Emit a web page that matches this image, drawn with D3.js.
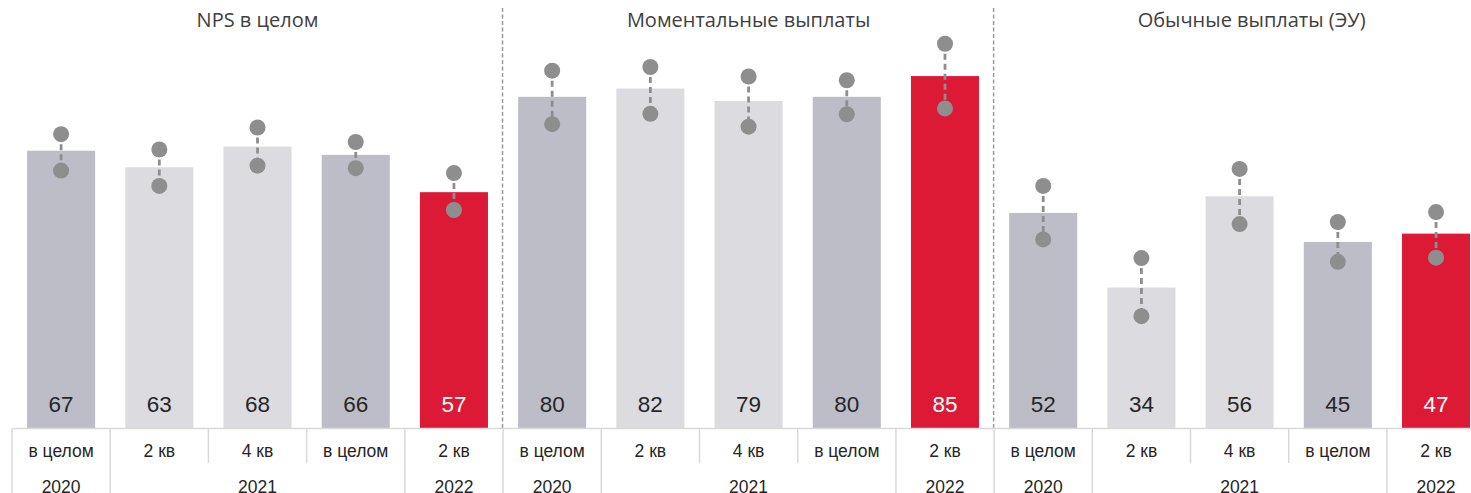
<!DOCTYPE html>
<html>
<head>
<meta charset="utf-8">
<script src="https://cdn.jsdelivr.net/npm/d3@7"></script>
<style>
  html, body { margin: 0; padding: 0; background: #fff; overflow: hidden; }
  svg { display: block; }
</style>
</head>
<body>
<svg id="chart" width="1471" height="493"></svg>
<script>
// ---- data ----
const panels = ["NPS в целом", "Моментальные выплаты", "Обычные выплаты (ЭУ)"];
const periods = ["в целом", "2 кв", "4 кв", "в целом", "2 кв"];
const years = ["2020", "2021", "2021", "2021", "2022"];
const kinds = ["year", "quarter", "quarter", "year", "current"];
const values = [
  [67, 63, 68, 66, 57],
  [80, 82, 79, 80, 85],
  [52, 34, 56, 45, 47]
];
const upper = [
  [71.0, 67.3, 72.6, 69.1, 61.6],
  [86.3, 87.2, 84.9, 84.0, 92.8],
  [58.5, 41.1, 62.6, 49.8, 52.2]
];
const lower = [
  [62.2, 58.5, 63.4, 62.8, 52.7],
  [73.4, 75.9, 72.8, 75.8, 77.2],
  [45.6, 27.1, 49.3, 40.2, 41.2]
];

// ---- build rows ----
const rows = [];
panels.forEach((p, pi) => {
  periods.forEach((per, i) => {
    rows.push({
      id: pi * periods.length + i, panel: pi, idx: i, period: per, year: years[i],
      kind: kinds[i], value: values[pi][i], hi: upper[pi][i], lo: lower[pi][i]
    });
  });
});

const svg = d3.select("#chart");
const left = 12, step = 98.21;
const n = rows.length;
const x = d3.scaleBand()
  .domain(rows.map(d => d.id))
  .range([left, left + n * step])
  .paddingInner(0.307)
  .paddingOuter(0.1535);
const base = 428.5;
const y = d3.scaleLinear().domain([0, 100]).range([base, base - 414.6]);
const color = { year: "#bdbdc7", quarter: "#dcdbe0", current: "#dc1a35" };
const slotL = i => left + i * step;

// bars
svg.append("g").selectAll("rect").data(rows).join("rect")
  .attr("x", d => x(d.id))
  .attr("width", x.bandwidth())
  .attr("y", d => y(d.value))
  .attr("height", d => y(0) - y(d.value))
  .attr("fill", d => color[d.kind]);

// value labels
svg.append("g").selectAll("text").data(rows).join("text")
  .attr("x", d => x(d.id) + x.bandwidth() / 2)
  .attr("y", 412)
  .attr("text-anchor", "middle")
  .attr("font-family", "Liberation Sans, Arial, sans-serif")
  .attr("font-size", 22.5)
  .attr("fill", d => d.kind === "current" ? "#ffffff" : "#262626")
  .text(d => d.value);

// range lines
const gr = svg.append("g");
gr.selectAll("line").data(rows).join("line")
  .attr("x1", d => x(d.id) + x.bandwidth() / 2)
  .attr("x2", d => x(d.id) + x.bandwidth() / 2)
  .attr("y1", d => y(d.hi))
  .attr("y2", d => y(d.lo))
  .attr("stroke", "#8e8e8e")
  .attr("stroke-width", 2.8)
  .attr("stroke-dasharray", "6,4");
gr.selectAll("circle.hi").data(rows).join("circle").attr("class", "hi")
  .attr("cx", d => x(d.id) + x.bandwidth() / 2)
  .attr("cy", d => y(d.hi))
  .attr("r", 8).attr("fill", "#8e8e8e");
gr.selectAll("circle.lo").data(rows).join("circle").attr("class", "lo")
  .attr("cx", d => x(d.id) + x.bandwidth() / 2)
  .attr("cy", d => y(d.lo))
  .attr("r", 8).attr("fill", "#8e8e8e");

// panel separators
const gsep = svg.append("g");
for (let pi = 1; pi < panels.length; pi++) {
  const sx = slotL(pi * periods.length) - 0.5;
  gsep.append("line")
    .attr("x1", sx).attr("x2", sx).attr("y1", 8).attr("y2", base)
    .attr("stroke", "#9a9a9a").attr("stroke-width", 1.5)
    .attr("stroke-dasharray", "4,2.5");
}

// titles
const titleShift = [0, 0, 12];
svg.append("g").selectAll("text").data(panels).join("text")
  .attr("x", (d, pi) => slotL(pi * periods.length) + periods.length * step / 2 + titleShift[pi])
  .attr("y", 27)
  .attr("text-anchor", "middle")
  .attr("font-family", "Open Sans, sans-serif")
  .attr("font-size", 20)
  .attr("fill", "#404040")
  .text(d => d);

// ---- category table ----
const gt = svg.append("g");
const grid = "#d9d9d9";
gt.append("line").attr("x1", left).attr("x2", 1471).attr("y1", base).attr("y2", base)
  .attr("stroke", grid).attr("stroke-width", 1.5);
rows.forEach((d, i) => {
  const lx = slotL(i);
  const fullLine = i === 0 || d.year !== rows[i - 1].year || d.panel !== rows[i - 1].panel;
  gt.append("line").attr("x1", lx).attr("x2", lx)
    .attr("y1", base).attr("y2", fullLine ? 493 : 463)
    .attr("stroke", grid).attr("stroke-width", 1.5);
  gt.append("text")
    .attr("x", x(d.id) + x.bandwidth() / 2).attr("y", 457)
    .attr("text-anchor", "middle")
    .attr("font-family", "Liberation Sans, Arial, sans-serif")
    .attr("font-size", 17.5).attr("fill", "#262626")
    .text(d.period);
});
// year groups
const groups = [];
rows.forEach((d, i) => {
  const last = groups[groups.length - 1];
  if (last && last.year === d.year && last.panel === d.panel) last.end = i;
  else groups.push({ year: d.year, panel: d.panel, start: i, end: i });
});
gt.selectAll("text.yr").data(groups).join("text").attr("class", "yr")
  .attr("x", g => (x(rows[g.start].id) + x(rows[g.end].id) + x.bandwidth()) / 2)
  .attr("y", 492.5)
  .attr("text-anchor", "middle")
  .attr("font-family", "Liberation Sans, Arial, sans-serif")
  .attr("font-size", 17.5).attr("fill", "#262626")
  .text(g => g.year);
</script>
</body>
</html>
